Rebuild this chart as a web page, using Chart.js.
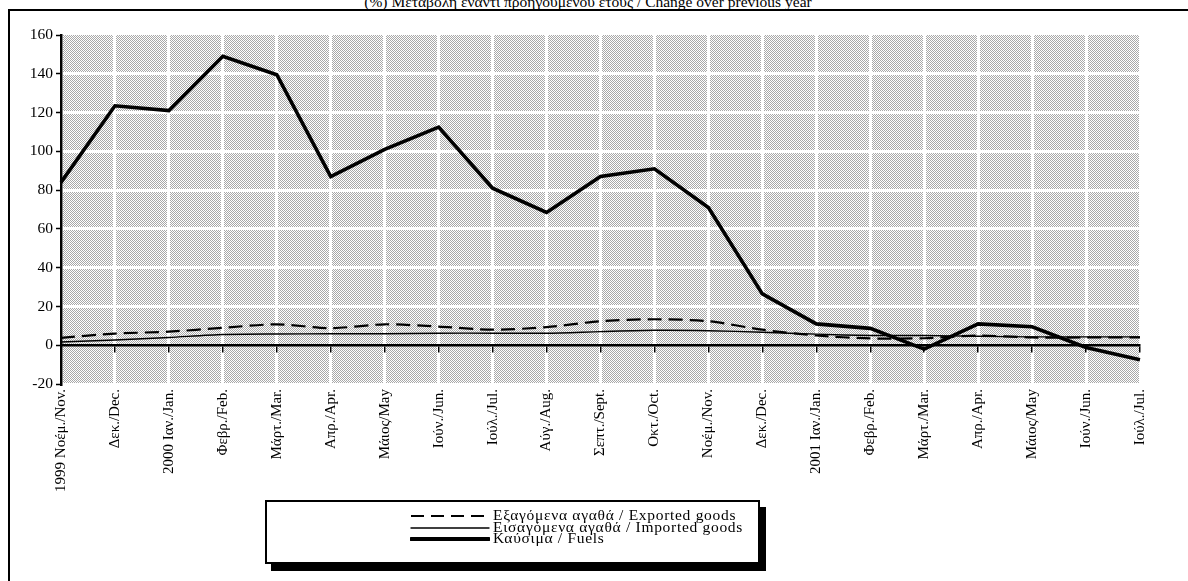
<!DOCTYPE html>
<html>
<head>
<meta charset="utf-8">
<script src="https://cdn.jsdelivr.net/npm/chart.js@4/dist/chart.umd.min.js"></script>
<style>
  html, body { margin: 0; padding: 0; background: #fff; overflow: hidden; }
  body { width: 1188px; height: 581px; position: relative; font-family: "Liberation Serif", "DejaVu Serif", serif; }
  #frame { position: absolute; left: 8px; top: 9px; width: 1300px; height: 700px; border-left: 2px solid #000; border-top: 2px solid #000; }
  #title { position: absolute; left: 0; width: 1176px; top: -5px; text-align: center; font-size: 15.5px; line-height: 14px; white-space: nowrap; }
  #wrap { position: absolute; left: 0; top: 0; width: 1188px; height: 581px; }
  #legend { position: absolute; left: 265px; top: 500px; width: 491px; height: 60px; border: 2px solid #000; background: #fff; box-shadow: 6px 7px 0 #000; }
  .row { position: absolute; left: 0; height: 12px; font-size: 15.5px; line-height: 12px; letter-spacing: 0.7px; white-space: nowrap; }
  .row svg { position: absolute; left: 143px; top: 0; }
  .row span { position: absolute; left: 226px; top: 0; }
</style>
</head>
<body>
<div id="frame"></div>
<div id="title">(%) Μεταβολή έναντι προηγούμενου έτους / Change over previous year</div>
<div id="wrap"><canvas id="c" width="1188" height="581"></canvas></div>
<div id="legend"></div>
<script>
const categories = [
  "1999 Νοέμ./Nov.", "Δεκ./Dec.", "2000 Ιαν./Jan.", "Φεβρ./Feb.", "Μάρτ./Mar.", "Απρ./Apr.",
  "Μάιος/May", "Ιούν./Jun.", "Ιούλ./Jul.", "Αύγ./Aug.", "Σεπτ./Sept.", "Οκτ./Oct.",
  "Νοέμ./Nov.", "Δεκ./Dec.", "2001 Ιαν./Jan.", "Φεβρ./Feb.", "Μάρτ./Mar.", "Απρ./Apr.",
  "Μάιος/May", "Ιούν./Jun.", "Ιούλ./Jul."
];
const exportedGoods = [3.8, 6, 7, 9, 10.8, 8.8, 10.8, 9.6, 8, 9.3, 12.4, 13.4, 12.4, 8, 5, 3.5, 3.6, 5, 4, 4, 4];
const importedGoods = [1.7, 2.7, 4, 5.5, 5.8, 5.9, 5.9, 6.2, 6.2, 6.2, 7, 7.7, 7.5, 6.7, 5.7, 5, 5, 4.6, 4.3, 4.3, 4.3];
const fuels = [84, 123.5, 121, 149, 139.5, 87, 101, 112.5, 81, 68.5, 87, 91, 71, 26.5, 11, 8.7, -2, 11, 9.5, -1.2, -7.5];
const yTicks = { min: -20, max: 160, step: 20 };
const seriesNames = ["Εξαγόμενα αγαθά / Exported goods", "Εισαγόμενα  αγαθά / Imported goods", "Καύσιμα / Fuels"];

const FONT = "Liberation Serif";

// dotted pattern for plot background
const pc = document.createElement('canvas');
pc.width = 2; pc.height = 2;
const pctx = pc.getContext('2d');
pctx.fillStyle = '#ffffff'; pctx.fillRect(0, 0, 2, 2);
pctx.fillStyle = '#a8a8a8';
pctx.fillRect(0, 0, 1, 1);
pctx.fillRect(1, 1, 1, 1);

const bgPlugin = {
  id: 'bgPattern',
  beforeDraw(chart) {
    const { ctx, chartArea: a } = chart;
    ctx.save();
    ctx.fillStyle = ctx.createPattern(pc, 'repeat');
    ctx.fillRect(a.left, a.top, a.right - a.left, a.bottom - a.top);
    ctx.restore();
  }
};

new Chart(document.getElementById('c'), {
  type: 'line',
  data: {
    labels: categories,
    datasets: [
      { label: seriesNames[0], data: exportedGoods, borderColor: '#000', borderWidth: 2.2, borderDash: [14, 7], pointRadius: 0, tension: 0.25, fill: false },
      { label: seriesNames[1], data: importedGoods, borderColor: '#000', borderWidth: 1.4, pointRadius: 0, tension: 0.25, fill: false },
      { label: seriesNames[2], data: fuels, borderColor: '#000', borderWidth: 3.6, pointRadius: 0, tension: 0, fill: false, borderJoinStyle: 'miter' }
    ]
  },
  options: {
    responsive: false,
    animation: false,
    events: [],
    layout: { padding: { left: 0, top: 35, right: 48, bottom: 0 } },
    plugins: { legend: { display: false }, title: { display: false }, tooltip: { enabled: false } },
    scales: {
      x: {
        type: 'category',
        position: 'bottom',
        offset: false,
        border: { display: false },
        grid: { color: '#ffffff', lineWidth: 3, drawTicks: false },
        ticks: {
          autoSkip: false, maxRotation: 90, minRotation: 90, padding: 5,
          color: '#000', font: { family: FONT, size: 15 }
        },
        afterFit(scale) { scale.height = 197; }
      },
      x2: {
        type: 'category',
        position: { y: 0 },
        offset: false,
        border: { display: true, color: '#000', width: 2.5 },
        grid: { drawOnChartArea: false, drawTicks: true, tickLength: 6, color: '#000', lineWidth: 1.5 },
        ticks: { display: false }
      },
      y: {
        min: yTicks.min, max: yTicks.max,
        border: { display: true, color: '#000', width: 2.5 },
        grid: {
          color: (ctx) => (ctx.tick && (ctx.tick.value === 0 || ctx.tick.value === yTicks.max)) ? 'rgba(0,0,0,0)' : '#ffffff',
          lineWidth: 3, drawTicks: true, tickLength: 5, tickColor: '#000', tickWidth: 1.5
        },
        ticks: { stepSize: yTicks.step, padding: 3, color: '#000', font: { family: FONT, size: 15.5 } },
        afterFit(scale) { scale.width = 61; }
      }
    }
  },
  plugins: [bgPlugin]
});

// legend (HTML)
const legend = document.getElementById('legend');
const styles = [
  { w: 2, dash: '13 7' },
  { w: 1.4, dash: '' },
  { w: 4, dash: '' }
];
const rowTops = [7, 18.5, 30];
seriesNames.forEach((name, i) => {
  const row = document.createElement('div');
  row.className = 'row';
  row.style.top = rowTops[i] + 'px';
  const s = styles[i];
  row.innerHTML = '<svg width="80" height="12"><line x1="1" y1="7" x2="79" y2="7" stroke="#000" stroke-width="' + s.w + '"' +
    (s.dash ? ' stroke-dasharray="' + s.dash + '"' : ' stroke-linecap="round"') + '/></svg><span>' + name + '</span>';
  legend.appendChild(row);
});
</script>
</body>
</html>
